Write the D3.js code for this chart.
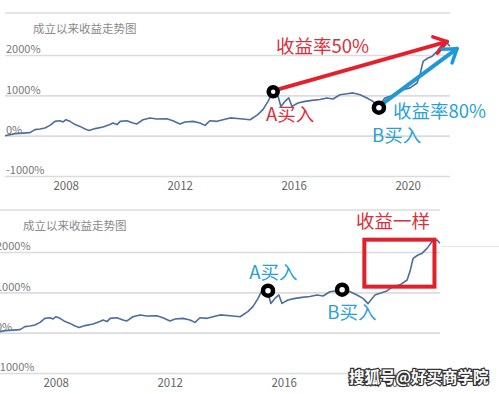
<!DOCTYPE html>
<html>
<head>
<meta charset="utf-8">
<script src="https://cdn.jsdelivr.net/npm/d3@7"></script>
<style>
  body { margin: 0; background: #fff; }
  svg { display: block; }
</style>
</head>
<body>
<script>
// fund cumulative return since inception (%)
const years = [2005.87, 2006.22, 2006.75, 2006.92, 2007.10, 2007.27, 2007.45, 2007.62, 2007.80, 2007.91,
  2008.01, 2008.15, 2008.33, 2008.50, 2008.68, 2008.82, 2009.03, 2009.31, 2009.55, 2009.66,
  2009.80, 2009.91, 2010.15, 2010.36, 2010.50, 2010.71, 2010.96, 2011.20, 2011.55, 2011.76,
  2012.01, 2012.19, 2012.47, 2012.71, 2012.89, 2013.06, 2013.31, 2013.52, 2013.77, 2014.12,
  2014.47, 2014.74, 2014.92, 2015.10, 2015.27, 2015.45, 2015.55, 2015.69, 2015.83, 2015.94,
  2016.15, 2016.40, 2016.64, 2016.92, 2017.17, 2017.38, 2017.62, 2017.87, 2018.08, 2018.33,
  2018.57, 2018.78, 2018.96, 2019.20, 2019.38, 2019.62, 2019.83, 2020.08, 2020.33, 2020.43,
  2020.54, 2020.71, 2020.85, 2021.03, 2021.20, 2021.38, 2021.48];
const returns = [0, 50, 75, 150, 165, 190, 255, 355, 370, 340,
  395, 355, 275, 230, 165, 130, 175, 215, 275, 315,
  275, 355, 370, 315, 290, 395, 440, 415, 420, 370,
  290, 340, 355, 315, 255, 370, 355, 395, 440, 420,
  395, 520, 645, 850, 1090, 975, 725, 850, 935, 725,
  810, 850, 875, 895, 935, 910, 1015, 1040, 1060, 1015,
  935, 850, 720, 935, 975, 1035, 1140, 1185, 1305, 1515,
  1840, 1925, 1965, 2090, 2255, 2300, 2215];

const yTicks = [2000, 1000, 0, -1000];
const xTicks = [2008, 2012, 2016, 2020];
const chartTitle = "成立以来收益走势图";

// annotations, in (year, %) units
const topNotes = {
  arrows: [
    { from: [2015.42, 1140], to: [2021.38, 2331], color: "#e3202c" },
    { from: [2019.17, 818], to: [2021.73, 2157], color: "#1f98d8" }
  ],
  dots: [[2015.28, 1091, 4.5], [2018.99, 694, 5]],
  labels: [
    { text: "收益率50%", at: [2015.38, 2207], color: "#d9303c" },
    { text: "A买入", at: [2015.03, 521], color: "#d9303c" },
    { text: "收益率80%", at: [2019.48, 590], color: "#2a9fd4" },
    { text: "B买入", at: [2018.75, 15], color: "#2a9fd4" }
  ],
  boxes: []
};
const bottomNotes = {
  arrows: [],
  dots: [[2015.45, 1041, 5], [2018.05, 1066, 5]],
  labels: [
    { text: "收益一样", at: [2018.54, 2752], color: "#d9303c" },
    { text: "A买入", at: [2014.79, 1488], color: "#2a9fd4" },
    { text: "B买入", at: [2017.53, 496], color: "#2a9fd4" }
  ],
  boxes: [{ x0: 2018.83, x1: 2021.29, y0: 2306, y1: 1141, color: "#e0202a" }]
};

const W = 499, H = 394;
const FONT = "'Noto Sans CJK SC', 'Noto Sans', sans-serif";
const left = 5, right = 450;

const x = d3.scaleLinear().domain([2008, 2020]).range([65.7, 407.7]);
const y = d3.scaleLinear().domain([-1000, 2000]).range([176, 55]);

const svg = d3.select("body").append("svg")
  .attr("width", W)
  .attr("height", H)
  .style("font-family", FONT);

svg.append("rect").attr("width", W).attr("height", H).attr("fill", "#fff");

// line in the right margin of the second screenshot
svg.append("line")
  .attr("x1", 442).attr("x2", W).attr("y1", 246.5).attr("y2", 246.5)
  .attr("stroke", "#e2e2e2").attr("stroke-width", 1.2);

function drawChart(g, notes) {
  g.append("line")
    .attr("x1", left).attr("x2", right).attr("y1", 13).attr("y2", 13)
    .attr("stroke", "#dcdcdc").attr("stroke-width", 1.6);

  g.append("text")
    .attr("x", 33).attr("y", 29).attr("dy", "0.35em")
    .attr("fill", "#8a8a8a").attr("font-size", 11.5)
    .text(chartTitle);

  g.append("g")
    .attr("transform", `translate(${left},0)`)
    .call(d3.axisRight(y).tickValues(yTicks).tickSize(right - left).tickFormat(d => d + "%"))
    .call(a => a.select(".domain").remove())
    .call(a => a.selectAll("line").attr("stroke", "#dcdcdc").attr("stroke-width", 1.6))
    .call(a => a.selectAll("text")
      .attr("x", 1).attr("y", -6).attr("dy", "0.35em")
      .attr("fill", "#777").attr("font-size", 11).attr("font-family", FONT));

  g.append("g")
    .attr("transform", `translate(0,${y(-1000)})`)
    .call(d3.axisBottom(x).tickValues(xTicks).tickSize(0).tickFormat(d3.format("d")))
    .call(a => a.select(".domain").remove())
    .call(a => a.selectAll("text")
      .attr("y", 10).attr("dy", "0.35em")
      .attr("fill", "#666").attr("font-size", 11.5).attr("font-family", FONT));

  const line = d3.line()
    .x((d, i) => x(years[i]))
    .y(d => y(d));

  g.append("path")
    .datum(returns)
    .attr("d", line)
    .attr("fill", "none")
    .attr("stroke", "#4d6d9d")
    .attr("stroke-width", 1.6)
    .attr("stroke-linejoin", "round");

  notes.boxes.forEach(b => {
    g.append("rect")
      .attr("x", x(b.x0)).attr("y", y(b.y0))
      .attr("width", x(b.x1) - x(b.x0)).attr("height", y(b.y1) - y(b.y0))
      .attr("fill", "none").attr("stroke", b.color).attr("stroke-width", 4);
  });

  notes.arrows.forEach(a => {
    const x1 = x(a.from[0]), y1 = y(a.from[1]);
    const x2 = x(a.to[0]), y2 = y(a.to[1]);
    const ang = Math.atan2(y2 - y1, x2 - x1);
    const len = 15, spread = 0.6;
    const p1 = [x2 - len * Math.cos(ang - spread), y2 - len * Math.sin(ang - spread)];
    const p2 = [x2 - len * Math.cos(ang + spread), y2 - len * Math.sin(ang + spread)];
    g.append("line")
      .attr("x1", x1).attr("y1", y1).attr("x2", x2).attr("y2", y2)
      .attr("stroke", a.color).attr("stroke-width", 4).attr("stroke-linecap", "round");
    g.append("path")
      .attr("d", `M${p1[0]},${p1[1]}L${x2},${y2}L${p2[0]},${p2[1]}`)
      .attr("fill", "none").attr("stroke", a.color).attr("stroke-width", 3.5)
      .attr("stroke-linecap", "round").attr("stroke-linejoin", "round");
  });

  notes.dots.forEach(d => {
    g.append("circle")
      .attr("cx", x(d[0])).attr("cy", y(d[1])).attr("r", d[2])
      .attr("fill", "#fff").attr("stroke", "#000").attr("stroke-width", 4.5);
  });

  notes.labels.forEach(l => {
    g.append("text")
      .attr("x", x(l.at[0])).attr("y", y(l.at[1])).attr("dy", "0.35em")
      .attr("fill", l.color).attr("font-size", 18.5)
      .text(l.text);
  });
}

drawChart(svg.append("g"), topNotes);
drawChart(svg.append("g").attr("transform", "translate(-10,197)"), bottomNotes);

// watermark
svg.append("text")
  .attr("x", 349).attr("y", 378).attr("dy", "0.35em")
  .attr("font-size", 15.5).attr("font-weight", "bold")
  .attr("fill", "#fff").attr("stroke", "#333").attr("stroke-width", 2.5)
  .attr("paint-order", "stroke")
  .text("搜狐号@好买商学院");
</script>
</body>
</html>
